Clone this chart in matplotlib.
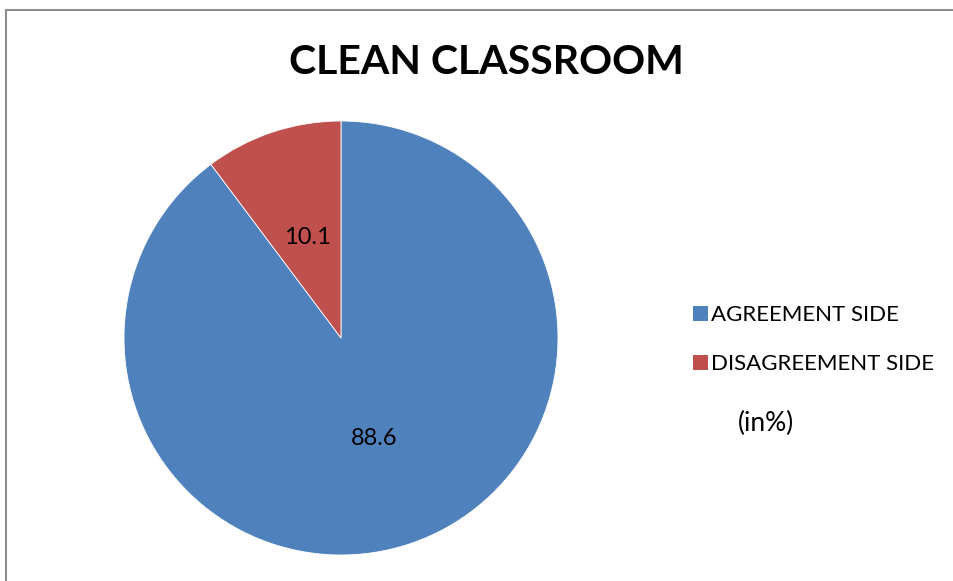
import matplotlib
matplotlib.use("Agg")
import matplotlib.pyplot as plt
from matplotlib.patches import Rectangle

plt.rcParams['font.family'] = ['Lato', 'DejaVu Sans']

# data
categories = ["AGREEMENT SIDE", "DISAGREEMENT SIDE"]
values = [88.6, 10.1]
colors = ["#4F81BD", "#C0504D"]
title = "CLEAN CLASSROOM"
unit_note = "(in%)"

W, H = 954, 581
fig = plt.figure(figsize=(W / 100, H / 100), dpi=100)
ax = fig.add_axes([0, 0, 1, 1])

total = sum(values)
wedges, _, autotexts = ax.pie(
    values, colors=colors, startangle=90, counterclock=False,
    center=(341, H - 338), radius=217,
    autopct=lambda p: f"{p * total / 100:.1f}", pctdistance=0.49,
    wedgeprops=dict(edgecolor="white", linewidth=0.6),
    textprops=dict(fontsize=17, color="black"),
)
ax.set_xlim(0, W)
ax.set_ylim(0, H)
ax.set_aspect("equal")
ax.axis("off")

# outer chart frame
fig.patches.append(Rectangle((6 / W, -0.1), 1.2, (H - 10) / H + 0.1,
                             transform=fig.transFigure, fill=False,
                             edgecolor="#8c8c8c", linewidth=1.5))

fig.text(486 / W, 1 - 62 / H, title, ha="center", va="center",
         fontsize=29.5, fontweight="bold")

leg = ax.legend(wedges, categories, loc="upper left",
                bbox_to_anchor=(682 / W, 1 - 294 / H),
                bbox_transform=fig.transFigure, frameon=False,
                fontsize=16, handlelength=0.65, handleheight=0.65,
                handletextpad=0.15, labelspacing=1.3, borderpad=0)
for h in leg.legend_handles:
    h.set_edgecolor("none")

fig.text(766 / W, 1 - 423 / H, unit_note, ha="center", va="center",
         fontsize=19)

fig.savefig("out.png", dpi=100)
